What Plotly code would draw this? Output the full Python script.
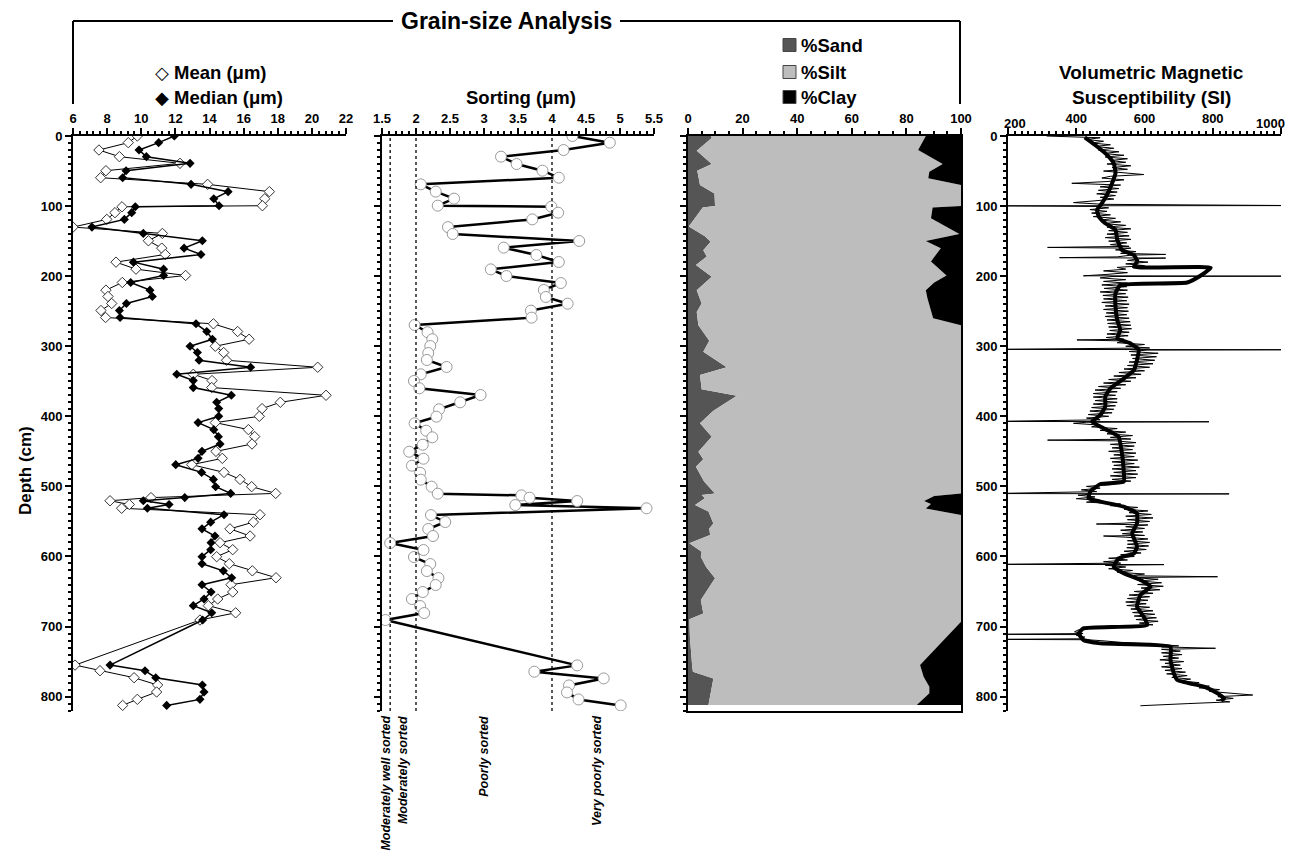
import plotly.graph_objects as go

W, H = 1289, 852
def px(x): return x / W
def py(y): return 1 - y / H

# ---------------- DATA ----------------
# Grain-size samples (depth in cm)
gs_depth = [0, 9.5, 20, 29.5, 39, 49.5, 59.5, 69, 79.4, 89.5, 99.5, 101, 109.4, 119, 130, 139, 149.5, 160, 169, 180,
            190, 199, 209, 220, 229, 239, 249, 259, 268, 279, 290, 300, 309, 320, 330, 340, 349, 359, 370, 380,
            389, 400, 409, 419, 429, 439.5, 450, 460, 469, 480, 490, 500.4, 510, 516, 520.5, 525.8, 531.2, 540.4, 551, 560.6,
            570.8, 580.3, 590.3, 600.3, 610.3, 620.5, 630.3, 640.3, 650.7, 660.7, 670.2, 680.4, 690.7, 755, 763, 773, 783.4, 793.4, 803.9, 812.5]
mean_um = [9.77, 9.24, 7.52, 8.72, 12.27, 7.93, 7.62, 13.89, 17.51, 17.24, 17.1, 8.87, 8.46, 7.98, 6.0, 11.24, 10.42, 11.2, 11.41, 8.52,
           9.69, 12.6, 8.89, 7.93, 8.05, 8.27, 7.64, 7.91, 14.23, 15.65, 16.32, 14.34, 14.83, 15.0, 20.34, 13.05, 14.15, 14.13, 20.83, 18.15,
           17.08, 16.92, 14.34, 16.28, 16.65, 16.49, 14.38, 14.75, 12.96, 14.85, 15.79, 16.47, 17.88, 10.57, 8.17, 9.3, 8.85, 16.96, 16.57, 15.2,
           16.38, 14.62, 15.36, 14.42, 15.16, 16.51, 17.9, 15.26, 15.36, 14.48, 13.93, 15.53, 13.44, 6.12, 7.58, 9.58, 10.96, 10.9, 9.77, 8.91]
median_um = [11.94, 11.02, 9.87, 10.3, 12.86, 9.11, 8.91, 12.92, 15.09, 14.25, 14.56, 9.65, 9.44, 9.01, 7.11, 10.12, 13.58, 12.51, 13.5, 9.54,
             11.31, 11.31, 9.38, 10.51, 10.65, 9.13, 8.72, 8.76, 13.21, 13.84, 14.17, 12.86, 13.29, 13.39, 16.41, 12.08, 13.05, 13.05, 15.28, 14.42,
             14.54, 14.54, 13.33, 14.25, 14.52, 14.62, 13.56, 13.33, 12.02, 13.54, 14.23, 14.36, 15.24, 12.55, 10.12, 11.63, 10.36, 14.85, 14.07, 13.56,
             14.32, 14.09, 14.07, 13.56, 13.56, 14.81, 15.3, 13.56, 14.09, 13.68, 13.05, 14.13, 13.6, 8.17, 10.22, 10.85, 13.58, 13.68, 13.44, 11.49]

sort_depth = [0, 9.5, 20, 29.5, 40, 49.5, 59.5, 69, 79.4, 89.4, 99.4, 100.8, 109.4, 119, 130, 139.8, 149.8, 159.3, 169.8, 179.8,
              190.3, 199.8, 209.8, 219.7, 229.7, 239.3, 249.2, 259.2, 269.7, 280, 290, 299.7, 309.7, 319.6, 329.6, 340, 349.6, 360, 369.6, 380,
              390, 400.5, 410, 420.5, 430, 440.5, 450.5, 460.5, 470.5, 480.5, 490.4, 500.4, 510.4, 512.8, 516.1, 520.9, 526.6, 531.3, 540.9, 550.8,
              560.8, 570.8, 580.8, 590.8, 600.8, 610.8, 620.8, 630.8, 640.7, 650.7, 660.7, 670.7, 680.7, 690.7, 755.4, 764.4, 774, 784, 794, 804, 812.5]
sorting_um = [4.30, 4.85, 4.17, 3.25, 3.48, 3.86, 4.10, 2.07, 2.29, 2.56, 2.32, 3.99, 4.09, 3.71, 2.47, 2.54, 4.40, 3.29, 3.77, 4.10,
              3.10, 3.33, 4.13, 3.88, 3.91, 4.23, 3.69, 3.70, 1.98, 2.17, 2.24, 2.21, 2.18, 2.16, 2.45, 2.07, 1.97, 2.05, 2.95, 2.65,
              2.34, 2.30, 1.98, 2.15, 2.24, 2.10, 1.90, 2.11, 1.94, 2.06, 2.07, 2.23, 2.32, 3.55, 3.67, 4.37, 3.46, 5.39, 2.22, 2.43,
              2.18, 2.25, 1.62, 2.11, 1.97, 2.21, 2.16, 2.33, 2.29, 2.10, 1.94, 2.06, 2.12, 1.55, 4.37, 3.74, 4.76, 4.25, 4.22, 4.39, 5.01]
sort_class_limits = [1.62, 2.0, 4.0]
sort_class_names = ["Moderately well sorted", "Moderately sorted", "Poorly sorted", "Very poorly sorted"]
sort_class_pos = [1.545, 1.81, 2.99, 4.66]

sand_depth = [0, 3, 21, 40, 49.5, 70, 82, 100, 102, 129, 143, 151, 163, 172, 184, 201, 220, 239, 251, 270,
              292, 308, 330, 341, 361.5, 370.5, 392, 410, 429, 450.5, 461.4, 472, 493, 510, 512.3, 517, 526.6, 536, 552.8, 560,
              569.4, 581.3, 593.2, 600.3, 614.6, 631.2, 662.2, 681.2, 689.7, 714.5, 755, 764.4, 774, 795.3, 812]
sand_pct = [8.5, 8.7, 3.2, 8.7, 3.4, 4.4, 9.7, 9.9, 5.4, 0.3, 6.2, 8.3, 5.6, 6.9, 2.9, 8.7, 3.2, 5.0, 3.2, 3.8,
            7.8, 5.6, 14.2, 4.4, 5.0, 17.9, 9.3, 4.4, 8.7, 3.8, 5.6, 2.9, 5.9, 9.9, 5.0, 6.2, 2.6, 7.5, 9.3, 7.8,
            8.1, 0.5, 5.0, 4.7, 6.6, 9.9, 4.7, 5.6, 0.5, 0.7, 1.5, 1.8, 9.3, 8.3, 7.5]
clay_depth = [0, 20, 40, 51, 60.4, 70, 100, 102, 117.5, 140, 150, 160, 179, 199, 209, 220, 231.6, 260, 270, 510,
              513.8, 520.9, 525, 531.4, 540.9, 693, 755, 771.5, 785.8, 795.3, 812]
clay_pct = [12.9, 15.7, 6.7, 11.6, 12.0, 0, 0, 10.4, 11.0, 0.6, 12.9, 7.4, 11.0, 5.3, 9.8, 12.9, 12.3, 10.2, 0, 0,
            9.8, 13.5, 11.0, 12.9, 0, 0, 15.0, 13.7, 11.6, 11.6, 16.2]

ms_smooth_depth = [2, 15, 27, 39, 53, 67.5, 84, 96, 105.6, 115, 124.6, 134, 148, 162.7, 170, 179, 186.5, 188, 199, 209,
                   212.6, 224.5, 243.5, 262.6, 277, 288.7, 296, 305, 319.6, 334, 348, 360, 372, 386, 398, 407.6, 417, 429, 452.9, 476.6,
                   493.3, 496.6, 507.6, 517, 521.8, 529, 538.5, 552.8, 567, 586, 595.6, 602.7, 614.6, 624, 633.6, 643, 655, 671.7, 686, 697.8,
                   702.6, 709.7, 719.2, 724, 728.7, 747.8, 766.8, 776.3, 785.8, 795.3, 802.5, 806]
ms_smooth = [425, 461, 490, 510, 515, 505, 490, 475, 461, 466, 485, 515, 520, 534, 569, 579, 569, 794, 765, 725,
             529, 515, 515, 520, 529, 520, 559, 583, 578, 569, 534, 500, 485, 485, 471, 446, 480, 524, 534, 539,
             539, 471, 441, 436, 471, 539, 578, 578, 564, 578, 569, 524, 510, 539, 588, 618, 588, 578, 598, 608,
             421, 407, 421, 471, 676, 676, 686, 696, 774, 814, 833, 825]

ms_raw_depth = [
    0, 2.5, 5, 7.5, 10, 12.5, 15, 17.5, 20, 22.5, 25, 27.5, 30, 32.5, 35, 37.5, 40, 42.5, 45, 47.5,
    50, 52.5, 55, 57.5, 60, 62.5, 65, 67.5, 70, 72.5, 75, 77.5, 80, 82.5, 85, 87.5, 90, 92.5, 95, 97.5,
    99.3, 99.6, 100.5, 102.5, 105, 107.5, 110, 112.5, 115, 117.5, 120, 122.5, 125, 127.5, 130, 132.5, 135, 137.5,
    140, 142.5, 145, 147.5, 150, 152.5, 155, 157.5, 159, 160, 162.5, 165, 167.5, 169, 170, 172.5, 173.6, 174.2, 175, 177.5,
    180, 182.5, 185, 187.5, 190, 192.5, 195, 197.5, 199.5, 200, 200.5, 202.5, 205, 207.5,
    210, 212.5, 215, 217.5, 220, 222.5, 225, 227.5, 230, 232.5, 235, 237.5, 240, 242.5, 245, 247.5,
    250, 252.5, 255, 257.5, 260, 262.5, 265, 267.5, 270, 272.5, 275, 277.5, 280, 282.5, 285, 287.5,
    290, 291, 292.5, 295, 297.5, 300, 302.5, 304.5, 305, 305.5, 307.5, 310, 312.5, 315, 317.5,
    320, 322.5, 325, 327.5, 330, 332.5, 335, 337.5, 340, 342.5, 345, 347.5, 350, 352.5, 355, 357.5,
    360, 362.5, 365, 367.5, 370, 372.5, 375, 377.5, 380, 382.5, 385, 387.5, 390, 392.5, 395, 397.5,
    400, 402.5, 405, 407.3, 407.8, 408.5, 410, 412.5, 415, 417.5, 420, 422.5, 425, 427.5,
    430, 432.5, 434, 435, 437.5, 440, 442.5, 445, 447.5, 450, 452.5, 455, 457.5, 460, 462.5, 465, 467.5,
    470, 472.5, 475, 477.5, 480, 482.5, 485, 487.5, 490, 492.5, 495, 497.5,
    500, 502.5, 505, 507.5, 510.2, 510.7, 511.2, 512.5, 515, 517.5, 520, 522.5, 525, 527.5,
    530, 532.5, 535, 537.5, 540, 542.5, 545, 547.5, 550, 552.5, 553.7, 555, 557.5,
    560, 562.5, 565, 567.5, 570, 570.8, 572.5, 575, 577.5, 580, 582.5, 585, 587.5, 590, 592.5, 595, 597.5,
    600, 602.5, 605, 607.5, 609.5, 611.3, 611.6, 612.5, 615, 617.5, 620, 622.5, 625, 627.5, 628.9,
    630, 632.5, 635, 637.5, 640, 642.5, 645, 647.5, 650, 652.5, 655, 657.5, 660, 662.5, 665, 667.5,
    670, 672.5, 675, 677.5, 680, 682.5, 685, 687.5, 690, 692.5, 695, 697.5,
    700, 702.5, 705, 707.5, 710, 711.1, 711.5, 712.5, 715, 717.5, 718.3, 718.8,
    720, 722.5, 725, 727.5, 729, 731, 732.5, 735, 737.5, 740, 742.5, 745, 747.5, 750,
    752.5, 755, 757.5, 760, 762.5, 765, 767.5, 770, 772.5, 775, 777.5, 780,
    782.5, 785, 787.5, 790, 792.5, 795, 797.7, 800, 802.5, 805, 807.5, 810, 813]
ms_raw = [
    313, 470, 430, 480, 445, 500, 455, 510, 465, 525, 480, 540, 485, 550, 500, 545, 490, 560, 505, 550,
    480, 545, 598, 500, 475, 540, 490, 387, 530, 470, 525, 465, 520, 460, 515, 470, 510, 455, 392, 480,
    1050, 150, 455, 495, 440, 490, 445, 500, 450, 515, 470, 530, 480, 545, 490, 560, 495, 550,
    490, 555, 485, 560, 495, 548, 500, 555, 316, 560, 515, 575, 530, 662, 560, 520, 351, 662, 590, 550,
    610, 545, 600, 520, 545, 480, 550, 490, 421, 1050, 505, 470, 545, 480,
    550, 475, 548, 482, 550, 470, 545, 478, 552, 480, 548, 475, 555, 485, 550, 480,
    553, 488, 548, 485, 555, 490, 558, 492, 560, 495, 562, 498, 555, 490, 552, 488,
    540, 402, 545, 520, 600, 545, 615, 150, 1050, 610, 555, 640, 560, 635, 565,
    630, 555, 625, 550, 615, 540, 600, 525, 590, 510, 575, 495, 560, 480, 545, 465,
    530, 455, 520, 450, 515, 450, 520, 455, 520, 450, 515, 445, 510, 440, 505, 435,
    495, 430, 470, 150, 789, 430, 392, 470, 445, 520, 470, 545, 490, 565,
    500, 560, 316, 515, 575, 500, 570, 505, 565, 495, 575, 510, 570, 500, 580, 505, 570,
    510, 585, 505, 575, 510, 580, 500, 575, 505, 560, 470, 500,
    430, 470, 415, 460, 150, 848, 440, 405, 455, 400, 470, 430, 530, 500,
    580, 540, 610, 555, 620, 545, 625, 550, 615, 540, 459, 610, 545,
    600, 530, 595, 535, 600, 480, 545, 610, 550, 615, 550, 612, 548, 605, 540, 590, 530,
    570, 495, 550, 480, 530, 150, 657, 485, 545, 495, 565, 520, 600, 555, 814,
    560, 640, 585, 650, 580, 655, 590, 645, 570, 625, 555, 615, 550, 610, 545, 605,
    548, 615, 560, 625, 565, 630, 570, 635, 575, 640, 585, 625,
    470, 430, 405, 395, 420, 150, 415, 400, 425, 410, 150, 430,
    470, 530, 620, 700, 650, 808, 650, 705, 650, 710, 655, 700, 645, 715,
    660, 705, 650, 710, 660, 720, 665, 725, 680, 735, 700, 760,
    725, 790, 760, 820, 790, 850, 917, 815, 860, 810, 850, 725, 588]

# ---------------- FIGURE ----------------
FONT = "Liberation Sans"
fig = go.Figure()

# Panel 1: mean / median
fig.add_trace(go.Scatter(x=mean_um, y=gs_depth, mode="lines+markers", xaxis="x", yaxis="y",
                         line=dict(color="black", width=1),
                         marker=dict(symbol="diamond", size=8, color="white", line=dict(color="#333", width=1)),
                         showlegend=False))
fig.add_trace(go.Scatter(x=median_um, y=gs_depth, mode="lines+markers", xaxis="x", yaxis="y",
                         line=dict(color="black", width=1.5),
                         marker=dict(symbol="diamond", size=7, color="black"),
                         showlegend=False))

# Panel 2: sorting
fig.add_trace(go.Scatter(x=sorting_um, y=sort_depth, mode="lines+markers", xaxis="x2", yaxis="y2",
                         line=dict(color="black", width=2.5),
                         marker=dict(symbol="circle", size=11, color="white", line=dict(color="#9a9a9a", width=1)),
                         showlegend=False))

# Panel 3: sand / silt / clay
fig.add_trace(go.Scatter(x=sand_pct, y=sand_depth, mode="lines", xaxis="x3", yaxis="y3",
                         line=dict(width=0, color="#555555"), fill="tozerox", fillcolor="#555555", showlegend=False))
fig.add_trace(go.Scatter(x=[100 - c for c in clay_pct], y=clay_depth, mode="lines", xaxis="x3", yaxis="y3",
                         line=dict(width=0, color="#bdbdbd"), fill="tonextx", fillcolor="#bdbdbd", showlegend=False))
fig.add_trace(go.Scatter(x=[100, 100], y=[clay_depth[0], clay_depth[-1]], mode="lines", xaxis="x3", yaxis="y3",
                         line=dict(width=0, color="black"), fill="tonextx", fillcolor="black", showlegend=False))

# Panel 4: magnetic susceptibility
fig.add_trace(go.Scatter(x=ms_raw, y=ms_raw_depth, mode="lines", xaxis="x4", yaxis="y4",
                         line=dict(color="black", width=1), showlegend=False))
fig.add_trace(go.Scatter(x=ms_smooth, y=ms_smooth_depth, mode="lines", xaxis="x4", yaxis="y4",
                         line=dict(color="black", width=4, shape="spline", smoothing=0.4), showlegend=False))

ydom = [py(711), py(136)]
tickfont = dict(family=FONT, size=13, color="black", weight="bold")

def xax(dom, rng, dtick, minor, anchor, mirror=False, **kw):
    d = dict(domain=dom, range=rng, dtick=dtick, tick0=rng[0], side="top", anchor=anchor,
             showline=True, linewidth=2, linecolor="black", mirror=mirror, automargin=False,
             ticks="outside", ticklen=6, tickwidth=2, tickcolor="black",
             minor=dict(dtick=minor, tick0=rng[0], ticks="outside", ticklen=3, tickwidth=1.5, tickcolor="black"),
             showgrid=False, zeroline=False, tickfont=tickfont, fixedrange=True)
    d.update(kw)
    return d

def yax(anchor, labels, mirror=False):
    return dict(domain=ydom, range=[820.5, 0], dtick=100, tick0=0, anchor=anchor,
                showline=True, linewidth=2, linecolor="black", mirror=mirror, automargin=False,
                ticks="outside", ticklen=6, tickwidth=2, tickcolor="black",
                minor=dict(dtick=10, ticks="outside", ticklen=3, tickwidth=1.5, tickcolor="black"),
                showgrid=False, zeroline=False, showticklabels=labels, tickfont=tickfont, fixedrange=True)

ms_ticks = [200, 400, 600, 800, 1000]
fig.update_layout(
    template="none",
    width=W, height=H, autosize=False,
    margin=dict(l=0, r=0, t=0, b=0, pad=0),
    paper_bgcolor="white", plot_bgcolor="rgba(0,0,0,0)",
    font=dict(family=FONT, color="black"),
    hovermode=False,
    xaxis=xax([px(73), px(346)], [6, 22], 2, 0.4, "y"),
    yaxis=yax("x", True),
    xaxis2=xax([px(382), px(654)], [1.5, 5.5], 0.5, 0.1, "y2"),
    yaxis2=yax("x2", False),
    xaxis3=xax([px(688), px(961)], [0, 100], 20, 5, "y3", mirror=True),
    yaxis3=yax("x3", False, mirror=True),
    xaxis4=xax([px(1008), px(1281)], [200, 1000], 200, 20, "y4",
               tickmode="array", tickvals=ms_ticks, ticktext=[""] + [str(t) for t in ms_ticks[1:-1]] + [""]),
    yaxis4=yax("x4", True),
)

shapes = []
# sorting class boundaries
for v in sort_class_limits:
    shapes.append(dict(type="line", xref="x2", yref="y2 domain", x0=v, x1=v, y0=0, y1=1,
                       line=dict(color="black", width=1.3, dash="dot")))
# Grain-size bracket
bl = dict(color="black", width=2)
shapes += [
    dict(type="line", xref="paper", yref="paper", x0=px(73), x1=px(73), y0=py(104), y1=py(21), line=bl),
    dict(type="line", xref="paper", yref="paper", x0=px(73), x1=px(393), y0=py(21), y1=py(21), line=bl),
    dict(type="line", xref="paper", yref="paper", x0=px(620), x1=px(960), y0=py(21), y1=py(21), line=bl),
    dict(type="line", xref="paper", yref="paper", x0=px(960), x1=px(960), y0=py(21), y1=py(104), line=bl),
]
# texture legend squares
for yc, col in [(45, "#555555"), (72, "#bdbdbd"), (97, "black")]:
    shapes.append(dict(type="rect", xref="paper", yref="paper", x0=px(783), x1=px(796), y0=py(yc + 6.5), y1=py(yc - 6.5),
                       fillcolor=col, line=dict(color="#444", width=1)))
fig.update_layout(shapes=shapes)

ann = []
def A(text, x, y, size=18.5, xanchor="center", yanchor="middle", angle=0, italic=False, xref="paper", family=FONT):
    ann.append(dict(text=text, x=x, y=y, xref=xref, yref="paper", showarrow=False, xanchor=xanchor, yanchor=yanchor,
                    textangle=angle, font=dict(family=family, size=size, color="black", weight="bold",
                                               style="italic" if italic else "normal")))

A("Grain-size Analysis", px(506), py(21), size=23)
A("◇", px(162), py(72), size=18, family="DejaVu Sans")
A("Mean (μm)", px(172), py(72), xanchor="left")
A("◆", px(162), py(97), size=18, family="DejaVu Sans")
A("Median (μm)", px(172), py(97), xanchor="left")
A("Sorting (μm)", px(521), py(97))
A("%Sand", px(799), py(45), xanchor="left")
A("%Silt", px(799), py(72), xanchor="left")
A("%Clay", px(799), py(97), xanchor="left")
A("Volumetric Magnetic", px(1151), py(72), size=19)
A("Susceptibility (SI)", px(1151), py(97), size=19)
A("Depth (cm)", px(25), py(470), size=17, angle=-90)
A("200", px(1015), py(124), size=13)
A("1000", px(1270), py(124), size=13)
for name, pos in zip(sort_class_names, sort_class_pos):
    A(name, pos, py(714), size=12.5, yanchor="top", angle=-90, italic=True, xref="x2")
fig.update_layout(annotations=ann)

fig.write_html("out.html", config={"displayModeBar": False},
               post_script="document.body.style.margin='0px';")
